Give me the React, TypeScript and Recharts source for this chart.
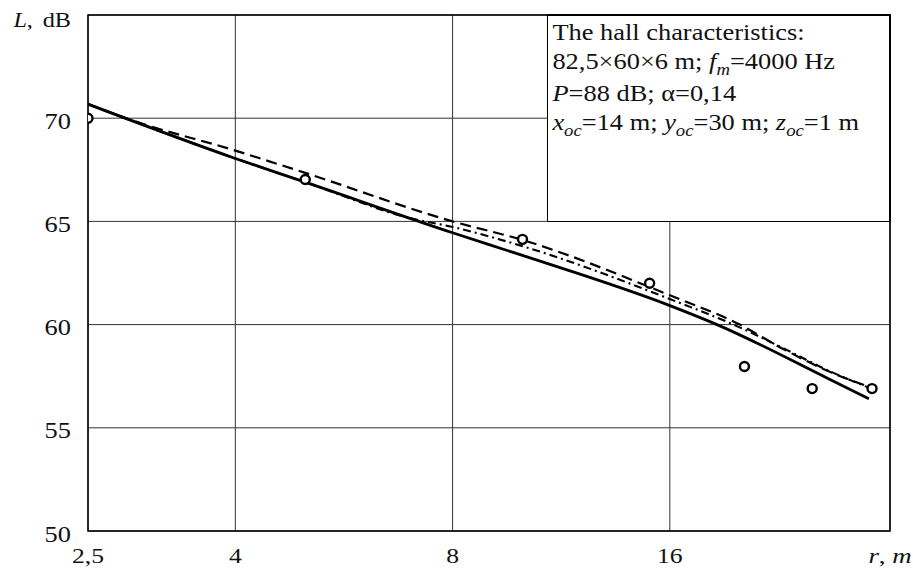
import React from 'react';
import { ComposedChart, Line, Scatter, XAxis, YAxis, CartesianGrid, ReferenceArea } from 'recharts';

// Axis ticks
const xTicks = [2.5, 4, 8, 16, 32.3];
const xTickLabels = ['2,5', '4', '8', '16', 'r, m'];
const yTicks = [50, 55, 60, 65, 70, 75];
const yTickLabels = ['50', '55', '60', '65', '70', 'L, dB'];

// Solid calculated curve
const solidR = [2.5, 4, 5, 8, 10, 16, 18.6, 26.5, 30.2];
const solidL = [70.68, 68.05, 66.9, 64.45, 63.35, 60.92, 60.0, 57.39, 56.41];
// Dashed calculated curve
const dashedR = [2.5, 2.87, 4, 5, 8, 10, 16, 20, 23, 26.5, 30.5];
const dashedL = [70.68, 69.91, 68.43, 67.35, 65.0, 64.1, 61.42, 60.0, 58.81, 57.75, 56.94];
// Dash-dot calculated curve
const dashDotR = [2.5, 4, 5, 7, 8, 10, 16, 19.6, 23, 26.5, 30.3];
const dashDotL = [70.68, 68.05, 66.9, 65.15, 64.73, 63.8, 61.24, 60.0, 58.85, 57.78, 56.92];
// Measured points
const measR = [2.5, 5, 10, 15, 20.3, 25.2, 30.5];
const measL = [70, 67.03, 64.13, 62.0, 57.97, 56.9, 56.9];

const toRows = (rs: number[], ls: number[]) => rs.map((r, i) => ({ r, L: ls[i] }));
const solid = toRows(solidR, solidL);
const dashed = toRows(dashedR, dashedL);
const dashDot = toRows(dashDotR, dashDotL);
const meas = toRows(measR, measL);

const FONT = '"Liberation Serif", "Times New Roman", serif';

const XTick = (props: any) => {
  const { x, y, payload } = props;
  const i = xTicks.indexOf(payload.value);
  const label = xTickLabels[i];
  return (
    <g transform={`translate(${x},${y + 32}) scale(1.22,1)`}>
      {label === 'r, m' ? (
        <text textAnchor="middle" fontFamily={FONT} fontSize={22} fill="#111">
          <tspan fontStyle="italic">r</tspan>
          <tspan>{', '}</tspan>
          <tspan fontStyle="italic">m</tspan>
        </text>
      ) : (
        <text textAnchor="middle" fontFamily={FONT} fontSize={21} fill="#111">{label}</text>
      )}
    </g>
  );
};

const YTick = (props: any) => {
  const { x, y, payload } = props;
  const i = yTicks.indexOf(payload.value);
  const label = yTickLabels[i];
  if (label === 'L, dB') {
    return (
      <g transform={`translate(${x},${y + 12}) scale(1.1,1)`}>
        <text textAnchor="end" fontFamily={FONT} fontSize={22} fill="#111">
          <tspan fontStyle="italic">L</tspan>
          <tspan>{','}</tspan>
          <tspan dx={9}>dB</tspan>
        </text>
      </g>
    );
  }
  return (
    <g transform={`translate(${x},${y + 10.5}) scale(1.1,1)`}>
      <text textAnchor="end" fontFamily={FONT} fontSize={24} fill="#111">{label}</text>
    </g>
  );
};

const Circle = (props: any) => {
  const { cx, cy } = props;
  return <circle cx={cx} cy={cy} r={4.5} fill="#fff" stroke="#000" strokeWidth={2.4} />;
};

const sub: React.CSSProperties = { fontSize: 17, position: 'relative', top: 6, fontStyle: 'italic' };

export default function App() {
  return (
    <div style={{ position: 'absolute', left: 0, top: 0, width: 913, height: 572, background: '#fff' }}>
      <ComposedChart width={913} height={572} margin={{ top: 15, right: 23, bottom: 11, left: 0 }}>
        <CartesianGrid stroke="#333" strokeWidth={1} />
        <XAxis
          dataKey="r"
          type="number"
          scale="log"
          domain={[2.5, 32.3]}
          allowDataOverflow
          ticks={xTicks}
          interval={0}
          height={30}
          tickSize={0}
          tickMargin={0}
          axisLine={false}
          tickLine={false}
          tick={<XTick />}
        />
        <YAxis
          type="number"
          domain={[50, 75]}
          ticks={yTicks}
          interval={0}
          width={88}
          tickSize={0}
          tickMargin={17}
          axisLine={false}
          tickLine={false}
          tick={<YTick />}
        />
        <ReferenceArea x1={2.5} x2={32.3} y1={50} y2={75} fill="none" stroke="#000" strokeWidth={1.5} />
        <Line data={dashDot} dataKey="L" type="monotone" stroke="#000" strokeWidth={2.1} strokeDasharray="8 4 2 4" dot={false} isAnimationActive={false} />
        <Line data={dashed} dataKey="L" type="monotone" stroke="#000" strokeWidth={2.2} strokeDasharray="11 6" dot={false} isAnimationActive={false} />
        <Line data={solid} dataKey="L" type="monotone" stroke="#000" strokeWidth={2.8} dot={false} isAnimationActive={false} />
        <Scatter data={meas} dataKey="L" shape={<Circle />} isAnimationActive={false} />
      </ComposedChart>
      <div
        style={{
          position: 'absolute',
          left: 547,
          top: 14,
          width: 344,
          height: 208,
          boxSizing: 'border-box',
          background: '#fff',
          borderLeft: '1px solid #000',
          borderBottom: '1px solid #000',
          borderTop: '2px solid #000',
          borderRight: '2px solid #000',
          overflow: 'hidden',
        }}
      >
        <div
          style={{
            transform: 'scaleX(1.1)',
            transformOrigin: 'left top',
            fontFamily: FONT,
            fontSize: 24,
            lineHeight: '29.3px',
            paddingTop: 2,
            paddingLeft: 4,
            color: '#111',
            whiteSpace: 'nowrap',
          }}
        >
          <div>The hall characteristics:</div>
          <div>
            82,5×60×6 m; <i>f</i>
            <span style={sub}>m</span>=4000 Hz
          </div>
          <div>
            <i>P</i>=88 dB; α=0,14
          </div>
          <div>
            <i>x</i>
            <span style={sub}>oc</span>=14 m; <i>y</i>
            <span style={sub}>oc</span>=30 m; <i>z</i>
            <span style={sub}>oc</span>=1 m
          </div>
        </div>
      </div>
    </div>
  );
}
